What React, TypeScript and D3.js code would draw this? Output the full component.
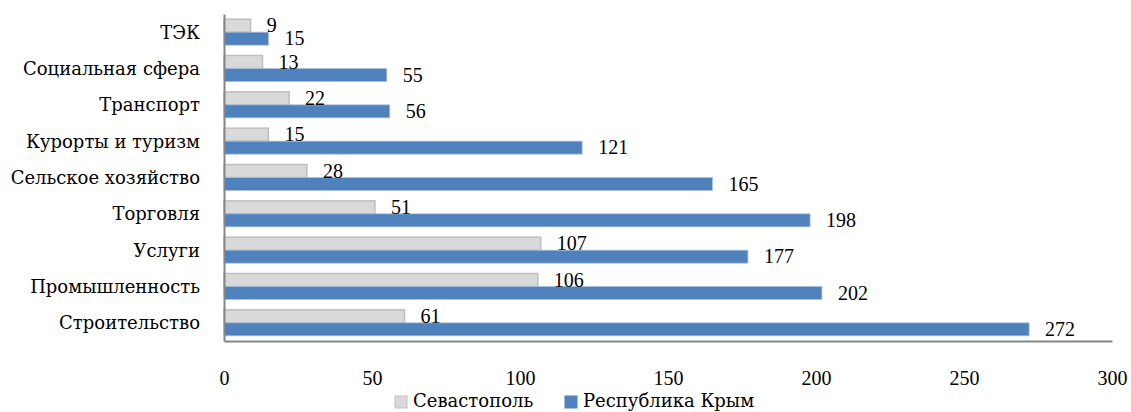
import React, {FC, useEffect, useRef} from 'react';
import * as d3 from 'd3';

const categories = [
  'ТЭК',
  'Социальная сфера',
  'Транспорт',
  'Курорты и туризм',
  'Сельское хозяйство',
  'Торговля',
  'Услуги',
  'Промышленность',
  'Строительство',
];
const sevastopol = [9, 13, 22, 15, 28, 51, 107, 106, 61];
const crimea = [15, 55, 56, 121, 165, 198, 177, 202, 272];
const xTicks = [0, 50, 100, 150, 200, 250, 300];
const seriesNames = ['Севастополь', 'Республика Крым'];

const W = 1131;
const H = 412;
// Liberation Serif has no Cyrillic here, so words use DejaVu Serif, digits Liberation Serif
const NUM_FONT = "'Liberation Serif', serif";
const TXT_FONT = "'DejaVu Serif', serif";
const TXT_SIZE = '18px';

const App: FC = () => {
  const ref = useRef<SVGSVGElement>(null);

  useEffect(() => {
    const svg = d3.select(ref.current);
    svg.selectAll('*').remove();

    const left = 224,
      right = 1112,
      top = 14,
      bottom = 341;
    const barH = 13;

    const x = d3.scaleLinear().domain([0, 300]).range([left, right]);
    const y = d3.scaleBand<string>().domain(categories).range([top, bottom]).padding(0);

    const rows = categories.map((c, i) => ({c, s: sevastopol[i], k: crimea[i]}));

    // bars
    const g = svg.append('g');
    g.selectAll('rect.sev')
      .data(rows)
      .enter()
      .append('rect')
      .attr('x', x(0))
      .attr('y', d => (y(d.c) as number) + y.bandwidth() / 2 - barH)
      .attr('width', d => x(d.s) - x(0))
      .attr('height', barH)
      .attr('fill', '#d9d9d9')
      .attr('stroke', '#bfbfbf')
      .attr('stroke-width', 1.5);
    g.selectAll('rect.kr')
      .data(rows)
      .enter()
      .append('rect')
      .attr('x', x(0))
      .attr('y', d => (y(d.c) as number) + y.bandwidth() / 2)
      .attr('width', d => x(d.k) - x(0))
      .attr('height', barH)
      .attr('fill', '#4f81bd')
      .attr('stroke', '#a9c1e0')
      .attr('stroke-width', 0.8);

    // value labels
    g.selectAll('text.sev')
      .data(rows)
      .enter()
      .append('text')
      .attr('x', d => x(d.s) + 16)
      .attr('y', d => (y(d.c) as number) + y.bandwidth() / 2)
      .style('font-family', NUM_FONT)
      .style('font-size', '20px')
      .attr('fill', '#000')
      .text(d => d.s);
    g.selectAll('text.kr')
      .data(rows)
      .enter()
      .append('text')
      .attr('x', d => x(d.k) + 16)
      .attr('y', d => (y(d.c) as number) + y.bandwidth() / 2 + barH)
      .style('font-family', NUM_FONT)
      .style('font-size', '20px')
      .attr('fill', '#000')
      .text(d => d.k);

    // axes
    const xAxis = svg
      .append('g')
      .attr('transform', `translate(0, ${bottom})`)
      .call(d3.axisBottom(x).tickValues(xTicks).tickSize(0).tickPadding(30));
    const yAxis = svg
      .append('g')
      .attr('transform', `translate(${left}, 0)`)
      .call(d3.axisLeft(y).tickSize(0).tickPadding(24));
    [xAxis, yAxis].forEach(a => {
      a.attr('font-family', null).attr('font-size', null);
      a.select('.domain').attr('stroke', '#868686').attr('stroke-width', 2);
      a.selectAll('text').attr('fill', '#000').style('font-size', '20px');
    });
    xAxis.selectAll('text').style('font-family', NUM_FONT);
    yAxis.selectAll('text').style('font-family', TXT_FONT).style('font-size', TXT_SIZE).attr('dy', '0.36em');

    // legend
    const legend = svg.append('g');
    const lx = [395, 565];
    const colors = ['#d9d9d9', '#4f81bd'];
    const strokes = ['#bfbfbf', '#4f81bd'];
    seriesNames.forEach((name, i) => {
      legend
        .append('rect')
        .attr('x', lx[i])
        .attr('y', 396)
        .attr('width', 12)
        .attr('height', 12)
        .attr('fill', colors[i])
        .attr('stroke', strokes[i])
        .attr('stroke-width', 1);
      legend
        .append('text')
        .attr('x', lx[i] + 18)
        .attr('y', 407)
        .style('font-family', TXT_FONT)
        .style('font-size', TXT_SIZE)
        .attr('fill', '#000')
        .text(name);
    });
  }, []);

  return (
    <svg
      ref={ref}
      width={W}
      height={H}
      style={{position: 'absolute', left: 0, top: 0, background: '#fff'}}
    />
  );
};

export default App;
